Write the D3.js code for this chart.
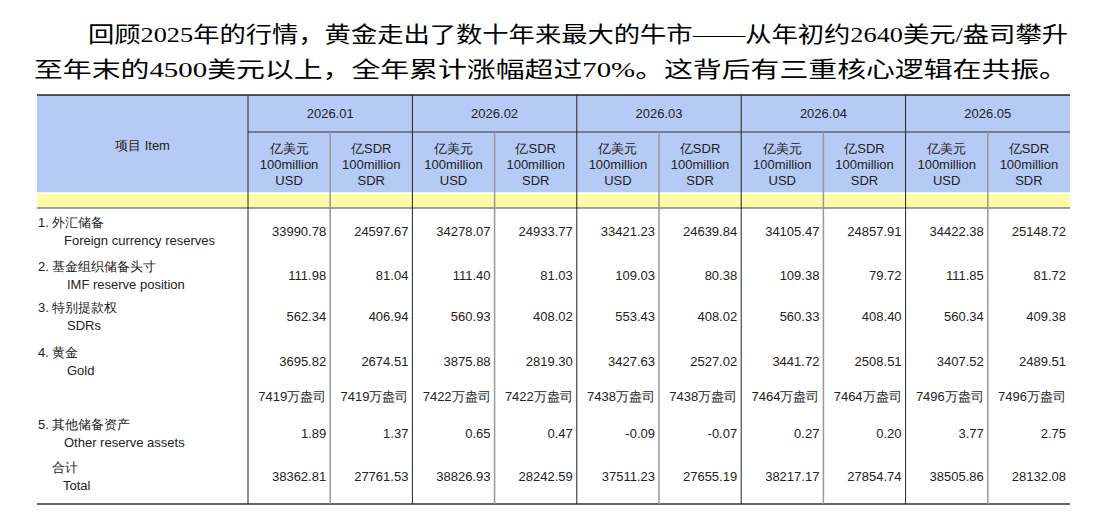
<!DOCTYPE html>
<html><head><meta charset="utf-8">
<script src="https://cdn.jsdelivr.net/npm/d3@7"></script>
<style>body{margin:0;background:#fff}</style>
</head><body><div id="chart"></div>
<script>
const titleLines = ["回顾2025年的行情，黄金走出了数十年来最大的牛市——从年初约2640美元/盎司攀升",
  "至年末的4500美元以上，全年累计涨幅超过70%。这背后有三重核心逻辑在共振。"];
const months = ["2026.01", "2026.02", "2026.03", "2026.04", "2026.05"];
const units = [["亿美元", "100million", "USD"], ["亿SDR", "100million", "SDR"]];
const itemsCn = ["1. 外汇储备", "2. 基金组织储备头寸", "3. 特别提款权", "4. 黄金", "", "5. 其他储备资产", "合计"];
const itemsEn = ["Foreign currency reserves", "IMF reserve position", "SDRs", "Gold", "", "Other reserve assets", "Total"];
const values = [
  ["33990.78","24597.67","34278.07","24933.77","33421.23","24639.84","34105.47","24857.91","34422.38","25148.72"],
  ["111.98","81.04","111.40","81.03","109.03","80.38","109.38","79.72","111.85","81.72"],
  ["562.34","406.94","560.93","408.02","553.43","408.02","560.33","408.40","560.34","409.38"],
  ["3695.82","2674.51","3875.88","2819.30","3427.63","2527.02","3441.72","2508.51","3407.52","2489.51"],
  ["7419万盎司","7419万盎司","7422万盎司","7422万盎司","7438万盎司","7438万盎司","7464万盎司","7464万盎司","7496万盎司","7496万盎司"],
  ["1.89","1.37","0.65","0.47","-0.09","-0.07","0.27","0.20","3.77","2.75"],
  ["38362.81","27761.53","38826.93","28242.59","37511.23","27655.19","38217.17","27854.74","38505.86","28132.08"]
];
const rowY = [231, 275, 316, 361, 396, 433, 476];

const W = 1108, H = 528, L = 37, R = 1070, itemW = 211;
const svg = d3.select("#chart").append("svg").attr("width", W).attr("height", H);
const font = "'Liberation Sans', Arial, sans-serif";
const fs = 13;

svg.selectAll("text.title").data(titleLines).enter().append("text")
  .attr("x", (d, i) => i ? 34 : 88).attr("y", (d, i) => i ? 77 : 42)
  .attr("font-family", "'Liberation Serif', 'Noto Sans CJK SC'").attr("font-size", 22)
  .attr("textLength", (d, i) => i ? 1034 : 980).attr("lengthAdjust", "spacingAndGlyphs")
  .text(d => d);

const xm = d3.scaleBand().domain(months).range([L + itemW, R]);
const cols = months.flatMap(m => [m + "|0", m + "|1"]);
const xc = d3.scaleBand().domain(cols).range([L + itemW, R]);

// header backgrounds
svg.append("rect").attr("x", L).attr("y", 95).attr("width", R - L).attr("height", 98).attr("fill", "#b5caf4");
svg.append("rect").attr("x", L).attr("y", 193).attr("width", R - L).attr("height", 15).attr("fill", "#fefba9");

// lines
const line = (x1, y1, x2, y2, c, w) => svg.append("line").attr("x1", x1).attr("y1", y1).attr("x2", x2).attr("y2", y2).attr("stroke", c).attr("stroke-width", w || 1);
line(L, 95, R, 95, "#222", 1.5);
line(L + itemW, 132, R, 132, "#333");
line(L, 193, R, 193, "#fff", 1.5);
line(L, 208, R, 208, "#444");
line(L, 504, R, 504, "#333", 1.5);
months.forEach(m => line(xm(m), 95, xm(m), 504, "#222"));
months.forEach(m => line(xc(m + "|1"), 132, xc(m + "|1"), 504, "#999", 1.5));

svg.append("text").attr("x", L + itemW / 2).attr("y", 150).attr("text-anchor", "middle")
  .attr("font-family", font).attr("font-size", fs).attr("fill", "#222").text("项目  Item");
svg.selectAll("text.month").data(months).enter().append("text")
  .attr("x", d => xm(d) + xm.bandwidth() / 2).attr("y", 118).attr("text-anchor", "middle")
  .attr("font-family", font).attr("font-size", fs).attr("fill", "#222").text(d => d);
cols.forEach((c, i) => {
  units[i % 2].forEach((t, j) => svg.append("text")
    .attr("x", xc(c) + xc.bandwidth() / 2).attr("y", 153 + j * 16).attr("text-anchor", "middle")
    .attr("font-family", font).attr("font-size", fs).attr("fill", "#222").text(t));
});

itemsCn.forEach((t, i) => {
  svg.append("text").attr("x", i === 6 ? 52 : 38).attr("y", rowY[i] - 4)
    .attr("font-family", font).attr("font-size", fs).attr("fill", "#222").text(t);
  svg.append("text").attr("x", i === 0 || i === 5 ? 64 : (i === 6 ? 63 : 67)).attr("y", rowY[i] + 14)
    .attr("font-family", font).attr("font-size", fs).attr("fill", "#222").text(itemsEn[i]);
});
values.forEach((row, i) => row.forEach((v, j) => svg.append("text")
  .attr("x", xc(cols[j]) + xc.bandwidth() - 4).attr("y", rowY[i] + 5).attr("text-anchor", "end")
  .attr("font-family", font).attr("font-size", fs).attr("fill", "#222").text(v)));
</script></body></html>
